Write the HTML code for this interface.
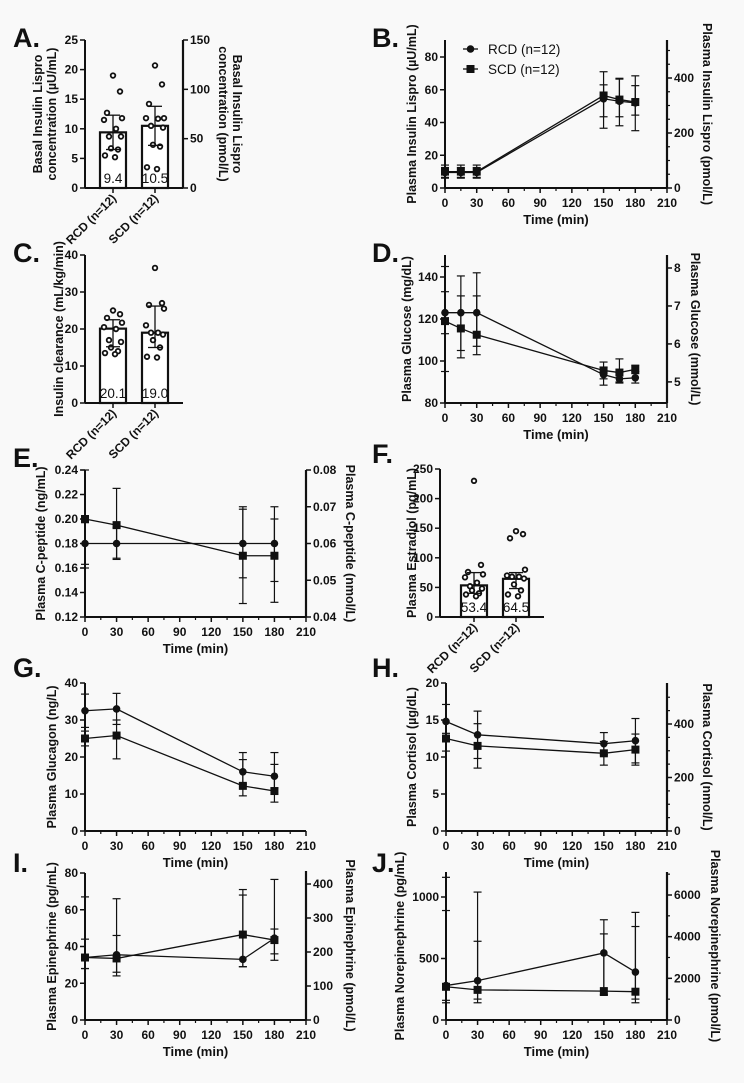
<!DOCTYPE html>
<html><head><meta charset="utf-8"><style>
html,body{margin:0;padding:0;background:#f9f9f9;}
svg{display:block;font-family:"Liberation Sans",Arial,sans-serif;}
</style></head><body>
<svg id="fig" width="744" height="1083" viewBox="0 0 744 1083" xmlns="http://www.w3.org/2000/svg">
<rect width="744" height="1083" fill="#f9f9f9"/>
</svg>
<script>
// ---------- data ----------
const groups = ["RCD (n=12)", "SCD (n=12)"];
// Panel A
const aMeans = [9.4, 10.5];
const aHi = [12.3, 13.8];
const aLo = [6.5, 7.2];
const aDotsRCD = [19, 16.3, 12.7, 11.8, 11.5, 10, 8.7, 8.7, 6.7, 6.5, 5.5, 5.2];
const aDotsSCD = [20.7, 17.5, 14.2, 11.8, 11.8, 11.7, 10.5, 10.2, 7.3, 7, 3.5, 3.2];
// Panel C
const cMeans = [20.1, 19.0];
const cHi = [22.5, 26.2];
const cLo = [15.2, 15.0];
const cDotsRCD = [25, 24, 23, 21.7, 20.5, 20, 17, 16.5, 15, 14, 13.5, 13.2];
const cDotsSCD = [36.5, 27, 26.5, 25.5, 21, 19, 19, 18.5, 17, 15, 12.5, 12.3];
// Panel F
const fMeans = [53.4, 64.5];
const fHi = [75, 75];
const fLo = [40, 48];
const fDotsRCD = [230, 88, 76, 72, 67, 58, 52, 48, 45, 40, 38, 35];
const fDotsSCD = [145, 140, 133, 80, 70, 68, 68, 65, 55, 45, 38, 35];
// Panel B
const bTimes = [0, 15, 30, 150, 165, 180];
const bRCD = [9.5, 9.5, 9.5, 54.5, 53, 52];
const bRCDhi = [12.5, 12.5, 12.5, 63, 66.5, 62.5];
const bRCDlo = [6.5, 6.5, 6.5, 43.5, 43.5, 44.5];
const bSCD = [10, 10, 10, 56.5, 54, 52.5];
const bSCDhi = [14, 14, 14, 71, 67, 68.5];
const bSCDlo = [6, 6, 6, 36.5, 38, 35];
// Panel D
const dTimes = [0, 15, 30, 150, 165, 180];
const dRCD = [123, 123, 123, 93.5, 91.5, 92];
const dRCDhi = [145, 131, 131, 97, 101, 95];
const dRCDlo = [113, 105, 107, 88.5, 89.5, 89.5];
const dSCD = [119, 115.5, 112.5, 95.5, 94.5, 96];
const dSCDhi = [133, 140.5, 142, 99.5, 94.5, 98];
const dSCDlo = [95, 101.5, 103, 91.5, 90, 94];
// Panel E
const eTimes = [0, 30, 150, 180];
const eRCD = [0.18, 0.18, 0.18, 0.18];
const eRCDhi = [0.197, 0.193, 0.208, 0.20];
const eRCDlo = [0.163, 0.167, 0.152, 0.149];
const eSCD = [0.20, 0.195, 0.17, 0.17];
const eSCDhi = [0.24, 0.225, 0.21, 0.21];
const eSCDlo = [0.16, 0.168, 0.131, 0.132];
// Panel G
const gTimes = [0, 30, 150, 180];
const gRCD = [32.5, 33, 16, 14.8];
const gRCDhi = [37, 37.2, 19.3, 18];
const gRCDlo = [28, 28.8, 12.7, 11.6];
const gSCD = [25, 25.8, 12.2, 10.8];
const gSCDhi = [27, 30, 21.2, 21.2];
const gSCDlo = [23, 19.5, 9.5, 7.8];
// Panel H
const hTimes = [0, 30, 150, 180];
const hRCD = [14.8, 13, 11.8, 12.2];
const hRCDhi = [17.1, 16.2, 13.3, 15.2];
const hRCDlo = [12.5, 9.8, 10.3, 9.2];
const hSCD = [12.5, 11.5, 10.5, 11];
const hSCDhi = [13.2, 14.5, 12.1, 13.1];
const hSCDlo = [10.8, 8.5, 8.9, 8.9];
// Panel I
const iTimes = [0, 30, 150, 180];
const iRCD = [34, 35.5, 33, 44.5];
const iRCDhi = [44, 46, 68, 49.5];
const iRCDlo = [28, 26, 29, 36];
const iSCD = [34, 33.5, 46.5, 43.5];
const iSCDhi = [67, 66, 71, 76.5];
const iSCDlo = [28, 24, 29, 32.5];
// Panel J
const jTimes = [0, 30, 150, 180];
const jRCD = [280, 320, 545, 390];
const jRCDhi = [890, 640, 700, 760];
const jRCDlo = [160, 170, 200, 170];
const jSCD = [270, 245, 235, 230];
const jSCDhi = [1160, 1040, 815, 875];
const jSCDlo = [140, 140, 205, 140];
const xTicks = [0, 30, 60, 90, 120, 150, 180, 210];

// ---------- helpers ----------
const svg = document.getElementById('fig');
const NS = 'http://www.w3.org/2000/svg';
function mk(tag, attrs, parent) {
  const el = document.createElementNS(NS, tag);
  for (const k in attrs) el.setAttribute(k, attrs[k]);
  (parent || svg).appendChild(el);
  return el;
}
function txt(s, x, y, opts, parent) {
  const t = mk('text', Object.assign({x: x, y: y, 'font-size': 12, 'font-weight': 'bold', fill: '#111'}, opts || {}), parent);
  t.textContent = s;
  return t;
}
function linear(d0, d1, r0, r1) { return v => r0 + (v - d0) * (r1 - r0) / (d1 - d0); }
const INK = '#111';

function panelLetter(s, x, y, name) {
  const t = txt(s, x, y, {'font-size': 27});
  
  
}
function vTitle(s, x, yc, rot, name) {
  const t = txt(s, x, yc, {'text-anchor': 'middle', 'font-size': 12.5, transform: 'rotate(' + rot + ' ' + x + ' ' + yc + ')'});
  
  
  return t;
}
function leftAxis(g, x, y, top, ticks, fmt, minor) {
  mk('line', {x1: x, y1: top, x2: x, y2: y.base, stroke: INK, 'stroke-width': 2}, g);
  ticks.forEach(v => {
    const yy = y(v);
    mk('line', {x1: x - 5, y1: yy, x2: x, y2: yy, stroke: INK, 'stroke-width': 1.5}, g);
    txt(fmt(v), x - 7, yy + 4, {'text-anchor': 'end'}, g);
  });
  (minor || []).forEach(v => { const yy = y(v); mk('line', {x1: x - 3, y1: yy, x2: x, y2: yy, stroke: INK, 'stroke-width': 1.2}, g); });
}
function rightAxis(g, x, y, top, bottom, ticks, fmt, minor) {
  mk('line', {x1: x, y1: top, x2: x, y2: bottom, stroke: INK, 'stroke-width': 2.2}, g);
  ticks.forEach(v => {
    const yy = y(v);
    mk('line', {x1: x, y1: yy, x2: x + 5, y2: yy, stroke: INK, 'stroke-width': 1.5}, g);
    txt(fmt(v), x + 7, yy + 4, {}, g);
  });
  (minor || []).forEach(v => { const yy = y(v); mk('line', {x1: x, y1: yy, x2: x + 3, y2: yy, stroke: INK, 'stroke-width': 1.2}, g); });
}
function timeAxis(g, x, yBase) {
  mk('line', {x1: x(0), y1: yBase, x2: x(210), y2: yBase, stroke: INK, 'stroke-width': 2}, g);
  xTicks.forEach(v => {
    mk('line', {x1: x(v), y1: yBase, x2: x(v), y2: yBase + 5, stroke: INK, 'stroke-width': 1.5}, g);
    txt(String(v), x(v), yBase + 19, {'text-anchor': 'middle'}, g);
    if (v < 210) mk('line', {x1: x(v + 15), y1: yBase, x2: x(v + 15), y2: yBase + 3, stroke: INK, 'stroke-width': 1.2}, g);
  });
  const t = txt('Time (min)', (x(0) + x(210)) / 2, yBase + 36, {'text-anchor': 'middle', 'font-size': 13}, g);
  
  
}
function series(g, x, y, times, vals, hi, lo, shape, name) {
  const sg = mk('g', {}, g);
  
  
  times.forEach((t, i) => {
    const xx = x(t);
    mk('line', {x1: xx, y1: y(hi[i]), x2: xx, y2: y(lo[i]), stroke: INK, 'stroke-width': 1.2}, sg);
    mk('line', {x1: xx - 4, y1: y(hi[i]), x2: xx + 4, y2: y(hi[i]), stroke: INK, 'stroke-width': 1.2}, sg);
    mk('line', {x1: xx - 4, y1: y(lo[i]), x2: xx + 4, y2: y(lo[i]), stroke: INK, 'stroke-width': 1.2}, sg);
  });
  mk('polyline', {points: times.map((t, i) => x(t) + ',' + y(vals[i])).join(' '), fill: 'none', stroke: INK, 'stroke-width': 1.3}, sg);
  times.forEach((t, i) => {
    let m;
    if (shape === 'circle') m = mk('circle', {cx: x(t), cy: y(vals[i]), r: 3.8, fill: INK}, sg);
    else m = mk('rect', {x: x(t) - 4, y: y(vals[i]) - 4, width: 8, height: 8, fill: INK}, sg);
    
    
  });
}

function linePanel(cfg) {
  const g = mk('g', {});
  
  
  const x = linear(0, 210, cfg.x0, cfg.x1);
  const y = linear(cfg.yMin, cfg.yMax, cfg.yBase, cfg.yTopVal);
  y.base = cfg.yBase;
  leftAxis(g, cfg.x0, y, cfg.axisTop, cfg.yTicks, cfg.fmt, cfg.yMinor);
  timeAxis(g, x, cfg.yBase);
  if (cfg.right) {
    const r = cfg.right;
    const yr = linear(r.min, r.maxVal, cfg.yBase, r.maxY);
    rightAxis(g, cfg.x1, yr, r.top, cfg.yBase, r.ticks, r.fmt, r.minor);
    vTitle(r.title, r.tx, (cfg.yBase + r.top) / 2, 90, 'right-y-axis-title');
  }
  vTitle(cfg.title, cfg.tx, (cfg.yBase + cfg.axisTop) / 2 + (cfg.tdy || 0), -90, 'left-y-axis-title');
  series(g, x, y, cfg.times, cfg.scd, cfg.scdHi, cfg.scdLo, 'square', 'scd-series');
  series(g, x, y, cfg.times, cfg.rcd, cfg.rcdHi, cfg.rcdLo, 'circle', 'rcd-series');
  return {g: g, x: x, y: y};
}

function barPanel(cfg) {
  const g = mk('g', {});
  
  
  const y = linear(0, cfg.yMax, cfg.yBase, cfg.yTop);
  y.base = cfg.yBase;
  leftAxis(g, cfg.x0, y, cfg.yTop, cfg.yTicks, v => String(v));
  mk('line', {x1: cfg.x0, y1: cfg.yBase, x2: cfg.xEnd, y2: cfg.yBase, stroke: INK, 'stroke-width': 2}, g);
  const dotsets = [cfg.dots0, cfg.dots1];
  const jit = [0, 7, -6, 9, -9, 3, -4, 8, -2, 5, -8, 2];
  cfg.means.forEach((m, i) => {
    const bx = cfg.bars[i], bw = cfg.bw, cx = bx + bw / 2;
    const b = mk('rect', {x: bx, y: y(m), width: bw, height: cfg.yBase - y(m), fill: '#fff', stroke: INK, 'stroke-width': 2.2}, g);
    
    
    dotsets[i].forEach((v, k) => {
      const d = mk('circle', {cx: cx + jit[k % jit.length], cy: y(v), r: 2.3, fill: '#fff', stroke: INK, 'stroke-width': 1.8}, g);
      
      
    });
    mk('line', {x1: cx, y1: y(cfg.hi[i]), x2: cx, y2: y(cfg.lo[i]), stroke: INK, 'stroke-width': 1.3}, g);
    mk('line', {x1: cx - 7, y1: y(cfg.hi[i]), x2: cx + 7, y2: y(cfg.hi[i]), stroke: INK, 'stroke-width': 1.3}, g);
    mk('line', {x1: cx - 7, y1: y(cfg.lo[i]), x2: cx + 7, y2: y(cfg.lo[i]), stroke: INK, 'stroke-width': 1.3}, g);
    const vt = txt(m.toFixed(1), cx, cfg.yBase - 5, {'text-anchor': 'middle', 'font-weight': 'normal', 'font-size': 13.5}, g);
    
    
    mk('line', {x1: cx, y1: cfg.yBase, x2: cx, y2: cfg.yBase + 5, stroke: INK, 'stroke-width': 1.5}, g);
    const lx = cx + 4, ly = cfg.yBase + 11;
    const lt = txt(groups[i], lx, ly, {'text-anchor': 'end', transform: 'rotate(-45 ' + lx + ' ' + ly + ')'}, g);
    
    
  });
  return {g: g, y: y};
}

// ---------- Panel A ----------
panelLetter('A.', 13, 47, 'panel-label-a');
const pa = barPanel({name: 'panel-a-basal-insulin', x0: 85, xEnd: 183, yBase: 188, yTop: 40, yMax: 25, yTicks: [0, 5, 10, 15, 20, 25],
  bars: [100, 142], bw: 26, means: aMeans, hi: aHi, lo: aLo, dots0: aDotsRCD, dots1: aDotsSCD});
{
  const yr = linear(0, 150, 188, 40);
  rightAxis(pa.g, 183, yr, 40, 188, [0, 50, 100, 150], v => String(v));
  vTitle('Basal Insulin Lispro', 42, 114, -90, 'left-y-axis-title');
  vTitle('concentration (µU/mL)', 56, 114, -90, 'left-y-axis-title-line2');
  vTitle('Basal Insulin Lispro', 233, 114, 90, 'right-y-axis-title');
  vTitle('concentration (pmol/L)', 219, 114, 90, 'right-y-axis-title-line2');
}

// ---------- Panel B ----------
panelLetter('B.', 372, 47, 'panel-label-b');
const pb = linePanel({name: 'panel-b-plasma-insulin', x0: 445, x1: 667, yBase: 188, yMin: 0, yMax: 80, yTopVal: 57, axisTop: 40,
  yTicks: [0, 20, 40, 60, 80], fmt: v => String(v), title: 'Plasma Insulin Lispro (µU/mL)', tx: 416,
  right: {min: 0, maxVal: 400, maxY: 78, top: 40, ticks: [0, 200, 400], minor: [50, 100, 150, 250, 300, 350, 450, 500], fmt: v => String(v), title: 'Plasma Insulin Lispro (pmol/L)', tx: 703},
  times: bTimes, rcd: bRCD, rcdHi: bRCDhi, rcdLo: bRCDlo, scd: bSCD, scdHi: bSCDhi, scdLo: bSCDlo});
{
  const lg = mk('g', {}, pb.g);
  
  
  const e1 = mk('g', {}, lg);
  
  
  mk('line', {x1: 463, y1: 49, x2: 478, y2: 49, stroke: INK, 'stroke-width': 1.3}, e1);
  mk('circle', {cx: 470.5, cy: 49, r: 3.8, fill: INK}, e1);
  txt('RCD (n=12)', 488, 54, {'font-weight': 'normal', 'font-size': 13.5}, e1);
  const e2 = mk('g', {}, lg);
  
  
  mk('line', {x1: 463, y1: 69, x2: 478, y2: 69, stroke: INK, 'stroke-width': 1.3}, e2);
  mk('rect', {x: 466.5, y: 65, width: 8, height: 8, fill: INK}, e2);
  txt('SCD (n=12)', 488, 74, {'font-weight': 'normal', 'font-size': 13.5}, e2);
}

// ---------- Panel C ----------
panelLetter('C.', 13, 262, 'panel-label-c');
barPanel({name: 'panel-c-insulin-clearance', x0: 85, xEnd: 183, yBase: 403, yTop: 255, yMax: 40, yTicks: [0, 10, 20, 30, 40],
  bars: [100, 142], bw: 26, means: cMeans, hi: cHi, lo: cLo, dots0: cDotsRCD, dots1: cDotsSCD});
vTitle('Insulin clearance (mL/kg/min)', 63, 329, -90, 'left-y-axis-title');

// ---------- Panel D ----------
panelLetter('D.', 372, 262, 'panel-label-d');
linePanel({name: 'panel-d-plasma-glucose', x0: 445, x1: 667, yBase: 403, yMin: 80, yMax: 140, yTopVal: 277, axisTop: 255,
  yTicks: [80, 100, 120, 140], fmt: v => String(v), title: 'Plasma Glucose (mg/dL)', tx: 411,
  right: {min: 4.444, maxVal: 8, maxY: 268, top: 255, ticks: [5, 6, 7, 8], fmt: v => String(v), title: 'Plasma Glucose (mmol/L)', tx: 691},
  times: dTimes, rcd: dRCD, rcdHi: dRCDhi, rcdLo: dRCDlo, scd: dSCD, scdHi: dSCDhi, scdLo: dSCDlo});

// ---------- Panel E ----------
panelLetter('E.', 13, 467, 'panel-label-e');
linePanel({name: 'panel-e-c-peptide', x0: 85, x1: 306, yBase: 617, yMin: 0.12, yMax: 0.24, yTopVal: 470, axisTop: 470,
  yTicks: [0.12, 0.14, 0.16, 0.18, 0.20, 0.22, 0.24], fmt: v => v.toFixed(2), title: 'Plasma C-peptide (ng/mL)', tx: 45,
  right: {min: 0.04, maxVal: 0.08, maxY: 470, top: 470, ticks: [0.04, 0.05, 0.06, 0.07, 0.08], fmt: v => v.toFixed(2), title: 'Plasma C-peptide (nmol/L)', tx: 346},
  times: eTimes, rcd: eRCD, rcdHi: eRCDhi, rcdLo: eRCDlo, scd: eSCD, scdHi: eSCDhi, scdLo: eSCDlo});

// ---------- Panel F ----------
panelLetter('F.', 372, 463, 'panel-label-f');
barPanel({name: 'panel-f-estradiol', x0: 440, xEnd: 544, yBase: 617, yTop: 469, yMax: 250, yTicks: [0, 50, 100, 150, 200, 250],
  bars: [461, 503], bw: 26, means: fMeans, hi: fHi, lo: fLo, dots0: fDotsRCD, dots1: fDotsSCD});
vTitle('Plasma Estradiol (pg/mL)', 416, 543, -90, 'left-y-axis-title');

// ---------- Panel G ----------
panelLetter('G.', 13, 677, 'panel-label-g');
linePanel({name: 'panel-g-glucagon', x0: 85, x1: 306, yBase: 831, yMin: 0, yMax: 40, yTopVal: 683, axisTop: 683,
  yTicks: [0, 10, 20, 30, 40], fmt: v => String(v), title: 'Plasma Glucagon (ng/L)', tx: 56,
  times: gTimes, rcd: gRCD, rcdHi: gRCDhi, rcdLo: gRCDlo, scd: gSCD, scdHi: gSCDhi, scdLo: gSCDlo});

// ---------- Panel H ----------
panelLetter('H.', 372, 677, 'panel-label-h');
linePanel({name: 'panel-h-cortisol', x0: 446, x1: 667, yBase: 831, yMin: 0, yMax: 20, yTopVal: 683, axisTop: 683,
  yTicks: [0, 5, 10, 15, 20], fmt: v => String(v), title: 'Plasma Cortisol  (µg/dL)', tx: 416,
  right: {min: 0, maxVal: 400, maxY: 724, top: 683, ticks: [0, 200, 400], minor: [50, 100, 150, 250, 300, 350, 450, 500], fmt: v => String(v), title: 'Plasma Cortisol  (nmol/L)', tx: 703},
  times: hTimes, rcd: hRCD, rcdHi: hRCDhi, rcdLo: hRCDlo, scd: hSCD, scdHi: hSCDhi, scdLo: hSCDlo});

// ---------- Panel I ----------
panelLetter('I.', 13, 872, 'panel-label-i');
linePanel({name: 'panel-i-epinephrine', x0: 85, x1: 306, yBase: 1020, yMin: 0, yMax: 80, yTopVal: 873, axisTop: 873,
  yTicks: [0, 20, 40, 60, 80], fmt: v => String(v), title: 'Plasma Epinephrine (pg/mL)', tx: 56,
  right: {min: 0, maxVal: 400, maxY: 884, top: 871, ticks: [0, 100, 200, 300, 400], fmt: v => String(v), title: 'Plasma Epinephrine (pmol/L)', tx: 346},
  times: iTimes, rcd: iRCD, rcdHi: iRCDhi, rcdLo: iRCDlo, scd: iSCD, scdHi: iSCDhi, scdLo: iSCDlo});

// ---------- Panel J ----------
panelLetter('J.', 372, 872, 'panel-label-j');
linePanel({name: 'panel-j-norepinephrine', x0: 446, x1: 667, yBase: 1020, yMin: 0, yMax: 1000, yTopVal: 897, axisTop: 872,
  yTicks: [0, 500, 1000], fmt: v => String(v), title: 'Plasma Norepinephrine (pg/mL)', tx: 404,
  right: {min: 0, maxVal: 6000, maxY: 895, top: 872, ticks: [0, 2000, 4000, 6000], minor: [1000, 3000, 5000, 7000], fmt: v => String(v), title: 'Plasma Norepinephrine (pmol/L)', tx: 711},
  times: jTimes, rcd: jRCD, rcdHi: jRCDhi, rcdLo: jRCDlo, scd: jSCD, scdHi: jSCDhi, scdLo: jSCDlo});
</script>
</body></html>
